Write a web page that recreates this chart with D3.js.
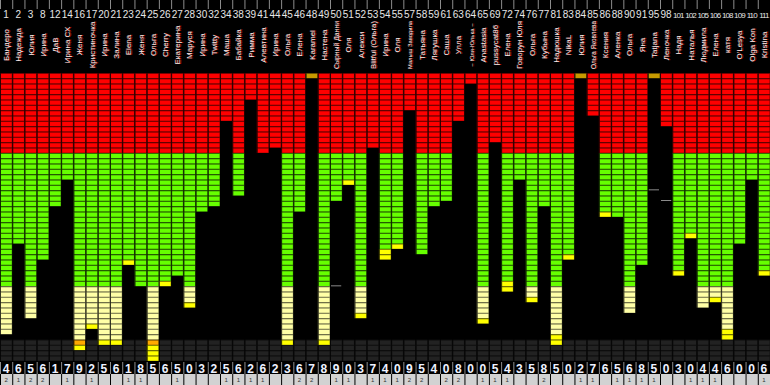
<!DOCTYPE html>
<html>
<head>
<meta charset="utf-8">
<script src="https://cdn.jsdelivr.net/npm/d3@7"></script>
<style>
  body { margin: 0; background: #000; }
  svg { display: block; }
</style>
</head>
<body>
<div id="chart-area"></div>
<script>
const SVG_WIDTH = 770
const SVG_HEIGHT = 385
const GRID_TOP = 73
const GRID_BOTTOM = 361
const N_ROWS = 54
const NAME_MAX = 48

// column ids (top header)
const ids = ["1","2","3","8","12","14","16","17","20","21","23","24","25","26","27","28","30","32","34","38","39","41","44","45","46","48","49","50","51","52","53","54","55","57","58","59","61","63","64","65","69","72","74","76","77","81","83","84","85","86","88","90","91","95","98","101","102","105","106","108","109","110","111"]
const names = ["Бандеро","Надежда","Юлия","Ирина","ДаВ","Ирина СХ","Женя","Кристиночка","Ирина","Залина","Elena","Женя","Ольга","Cherry","Екатерина","Маруся","Ирина","Twitty","Маша","Бабайка","Римма","Алевтина","Ирина","Ольга","Елена","Karamel","Настена","Сырный Данни","Оля","Алекси","Blitful (Ольга)","Ирина","Оля","Малыш Заводила","Татьяна","Лягушка","Саша","Улла","~ Юля-Юлька ~","Anastasia","pussycat86","Елена","Говорун Юля","Ольга","Кубына","Надюшка","NikaL","Юлия","Ольга Яковлева","Ксения","Аленка","Ольга","Яна","Tatjana","Леночка","Надя","Наталья","Людмила","Елена","катя","O'Lesya","Olga Kon","Kristina"]
const smallNames = ["Малыш Заводила", "~ Юля-Юлька ~"]
// number of filled cells from the top
const levels = [49,32,46,35,25,20,52,48,51,51,36,40,54,40,38,44,26,25,9,23,5,15,14,51,26,1,51,24,21,46,14,35,33,7,34,25,24,9,2,47,13,41,20,43,25,51,35,1,8,27,27,45,36,1,10,38,31,44,43,50,32,20,38]
// number of highlighted cells at the end of each fill
const tips = [0,0,0,0,0,0,1,1,1,1,1,0,3,1,0,1,0,0,0,0,0,0,0,1,0,1,1,0,1,1,0,2,1,0,0,0,0,0,0,1,0,2,0,1,0,2,1,1,0,1,0,0,0,1,0,1,1,0,1,2,0,0,1]
// bottom counters
const bigDigits = [4,6,5,6,1,7,9,2,5,6,1,8,5,6,5,0,3,2,5,6,2,6,2,3,6,7,8,9,0,3,7,4,0,9,5,4,0,8,0,0,5,4,3,5,8,5,0,2,7,6,5,6,8,5,0,3,0,4,4,6,0,0,6]
const smallDigits = [2,1,2,2,"",1,"",1,"","",1,1,"","",1,"","","",1,1,1,1,"","",2,2,"",1,1,"",1,1,1,2,2,"",2,2,"",1,1,1,"","",2,"","",1,1,"",1,1,1,1,"","",1,1,1,"","","",1]
// grey marker lines
const markerCols = ["50","95","98"]
const markerRows = [40,22,24]

const ZONES = [
  { until: 15, fill: "#ff0000", edge: "#7a0000" },
  { until: 40, fill: "#66ff00", edge: "#2f7000" },
  { until: 50, fill: "#ffffa6", edge: "#8a8a5a" },
  { until: 54, fill: "#ffaa00", edge: "#7a5200" }
]
const TIP = { fill: "#ffff00", edge: "#8a8a00" }
const TIP_TOP = { fill: "#c89a00", edge: "#6a5200" }
const EMPTY = { fill: "#222222", edge: "#121212" }

const svg = d3.select("#chart-area").append("svg")
  .attr("width", SVG_WIDTH)
  .attr("height", SVG_HEIGHT)

svg.append("rect").attr("width", SVG_WIDTH).attr("height", SVG_HEIGHT).attr("fill", "#000")

const x = d3.scaleBand().domain(ids).range([0, SVG_WIDTH])
const y = d3.scaleBand().domain(d3.range(N_ROWS)).range([GRID_TOP, GRID_BOTTOM])

function zoneOf(r) {
  return ZONES.find(z => r < z.until)
}

const cols = ids.map((id, i) => {
  const cells = []
  for (let r = 0; r < N_ROWS; r++) {
    let c = null
    if (r < levels[i]) {
      if (r >= levels[i] - tips[i]) c = r < 15 ? TIP_TOP : TIP
      else c = zoneOf(r)
    } else if (r >= 50) {
      c = EMPTY
    }
    if (c) cells.push({ id, r, c })
  }
  return { id, cells }
})

const colG = svg.selectAll("g.col")
  .data(cols)
  .enter().append("g")
  .attr("class", "col")

// dark edge first, then lighter body inset
colG.selectAll("rect.edge")
  .data(d => d.cells)
  .enter().append("rect")
  .attr("x", d => x(d.id))
  .attr("y", d => y(d.r))
  .attr("width", x.bandwidth())
  .attr("height", y.bandwidth())
  .attr("fill", d => d.c.edge)

colG.selectAll("rect.body")
  .data(d => d.cells)
  .enter().append("rect")
  .attr("x", d => x(d.id) + 1)
  .attr("y", d => y(d.r) + 1)
  .attr("width", x.bandwidth() - 1.5)
  .attr("height", y.bandwidth() - 1.3)
  .attr("fill", d => d.c.fill)

// black column separators
svg.selectAll("line.sep")
  .data(ids)
  .enter().append("line")
  .attr("x1", d => x(d) + 0.5)
  .attr("x2", d => x(d) + 0.5)
  .attr("y1", GRID_TOP)
  .attr("y2", GRID_BOTTOM)
  .attr("stroke", "#000")
  .attr("stroke-opacity", 0.6)
  .attr("stroke-width", 1)

// markers
svg.selectAll("line.marker")
  .data(markerCols)
  .enter().append("line")
  .attr("x1", d => x(d) + 1)
  .attr("x2", d => x(d) + x.bandwidth() - 1)
  .attr("y1", (d, i) => y(markerRows[i]) - 0.5)
  .attr("y2", (d, i) => y(markerRows[i]) - 0.5)
  .attr("stroke", "#8a8a8a")
  .attr("stroke-width", 1)

// header
svg.selectAll("line.head")
  .data(ids)
  .enter().append("line")
  .attr("x1", d => x(d) + 0.5)
  .attr("x2", d => x(d) + 0.5)
  .attr("y1", 0)
  .attr("y2", 9)
  .attr("stroke", "#8c8c8c")

svg.selectAll("text.id")
  .data(ids)
  .enter().append("text")
  .attr("x", d => x(d) + x.bandwidth() / 2)
  .attr("y", 18)
  .attr("text-anchor", "middle")
  .attr("font-family", "Liberation Sans, Arial, sans-serif")
  .attr("font-size", d => d.length > 2 ? "8px" : "10px")
  .attr("letter-spacing", d => d.length > 2 ? "-0.9px" : null)
  .attr("fill", "#e6e6e6")
  .text(d => d)

const nameG = svg.selectAll("g.name")
  .data(ids)
  .enter().append("g")
  .attr("transform", d => `translate(${x(d) + x.bandwidth() / 2 + 3}, 45) rotate(-90)`)

function nameText(sel, fill, dy) {
  sel.append("text")
    .attr("y", dy)
    .attr("text-anchor", "middle")
    .attr("font-family", "Liberation Sans, Arial, sans-serif")
    .attr("font-size", (d, i) => smallNames.includes(names[i]) ? "6px" : "8px")
    .attr("fill", fill)
    .text((d, i) => names[i])
    .each(function () {
      if (this.getComputedTextLength() > NAME_MAX) {
        d3.select(this).attr("textLength", NAME_MAX).attr("lengthAdjust", "spacingAndGlyphs")
      }
    })
}
nameText(nameG, "#c00000", 1)
nameText(nameG, "#f0f0f0", 0)

// bottom counters
const BIG_Y = 362
const SMALL_Y = 374
svg.selectAll("line.bigsep")
  .data(ids)
  .enter().append("line")
  .attr("x1", d => x(d) + 0.5)
  .attr("x2", d => x(d) + 0.5)
  .attr("y1", BIG_Y)
  .attr("y2", SMALL_Y)
  .attr("stroke", "#8c8c8c")

svg.selectAll("text.big")
  .data(ids)
  .enter().append("text")
  .attr("x", d => x(d) + x.bandwidth() / 2)
  .attr("y", BIG_Y + 10.5)
  .attr("text-anchor", "middle")
  .attr("font-family", "Liberation Sans, Arial, sans-serif")
  .attr("font-weight", "bold")
  .attr("font-size", "12px")
  .attr("fill", "#eef2ff")
  .text((d, i) => bigDigits[i])

svg.selectAll("rect.small")
  .data(ids)
  .enter().append("rect")
  .attr("x", d => x(d) + 1)
  .attr("y", SMALL_Y)
  .attr("width", x.bandwidth() - 1)
  .attr("height", SVG_HEIGHT - SMALL_Y)
  .attr("fill", "#d2d2d2")

svg.selectAll("text.small")
  .data(ids)
  .enter().append("text")
  .attr("x", d => x(d) + x.bandwidth() / 2)
  .attr("y", SMALL_Y + 7.5)
  .attr("text-anchor", "middle")
  .attr("font-family", "Liberation Sans, Arial, sans-serif")
  .attr("font-size", "6px")
  .attr("fill", "#333")
  .text((d, i) => smallDigits[i])
</script>
</body>
</html>
